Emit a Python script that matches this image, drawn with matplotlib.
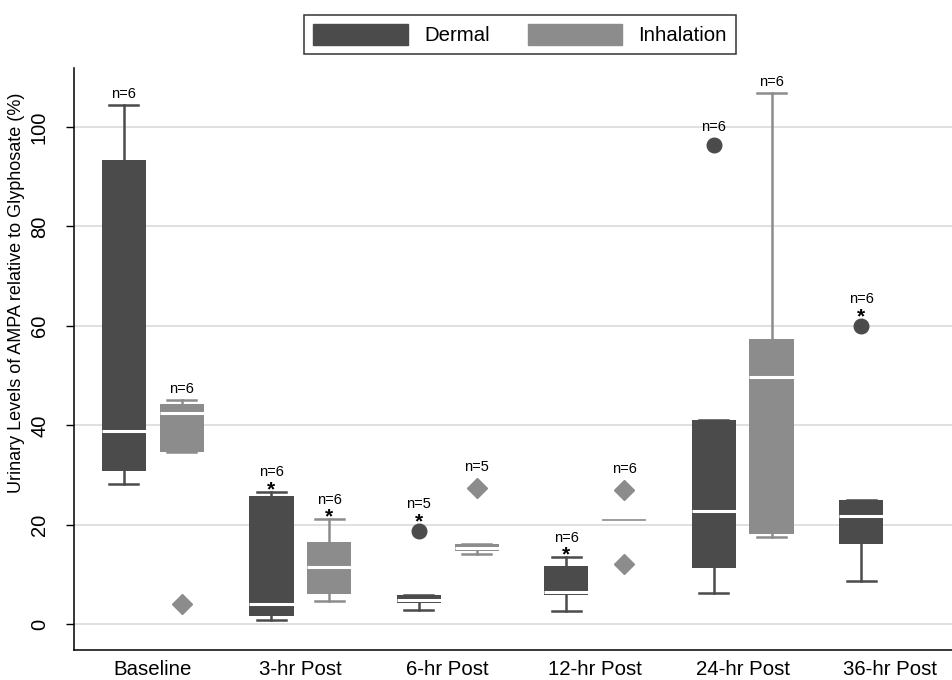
import matplotlib
matplotlib.use("Agg")
import matplotlib.pyplot as plt
from matplotlib.patches import Patch

plt.rcParams['font.family'] = ['Liberation Sans', 'DejaVu Sans']

# time points on the x axis
groups = ['Baseline', '3-hr Post', '6-hr Post', '12-hr Post', '24-hr Post', '36-hr Post']

# box statistics: q1, median, q3, whisker low, whisker high
dermal_q1 = [30.8, 1.7, 4.3, 5.9, 11.3, 16.2]
dermal_med = [38.8, 4.2, 5.0, 6.5, 22.9, 21.8]
dermal_q3 = [93.3, 25.8, 5.9, 11.8, 41.2, 25.0]
dermal_lo = [28.2, 0.8, 2.9, 2.7, 6.3, 8.8]
dermal_hi = [104.4, 26.7, 5.9, 13.5, 41.2, 25.0]
dermal_out = [[], [], [18.8], [], [96.4], [60.0]]
dermal_n = [6, 6, 5, 6, 6, 6]
dermal_star = [False, True, True, True, False, True]

# no inhalation data at 36-hr
inhal_q1 = [34.7, 6.2, 14.8, 21.0, 18.1]
inhal_med = [42.5, 11.5, 15.4, 21.0, 49.8]
inhal_q3 = [44.4, 16.5, 16.1, 21.0, 57.3]
inhal_lo = [34.7, 4.8, 14.2, 21.0, 17.5]
inhal_hi = [45.2, 21.2, 16.1, 21.0, 106.8]
inhal_out = [[4.1], [], [27.5], [27.1, 12.1], []]
inhal_n = [6, 6, 5, 6, 6]
inhal_star = [False, True, False, False, False]

dark = '#4b4b4b'
light = '#8c8c8c'

fig = plt.figure(figsize=(9.52, 6.8), dpi=100)
ax = fig.add_axes([74 / 952, 30 / 680, 878 / 952, 582 / 680])

off = 0.393   # inhalation box sits right of dermal box
bw = 0.30


def make_stats(q1, med, q3, lo, hi, out):
    return [dict(q1=a, med=b, q3=c, whislo=d, whishi=e, fliers=f)
            for a, b, c, d, e, f in zip(q1, med, q3, lo, hi, out)]


def draw(stats, pos, color, marker, ms):
    return ax.bxp(stats, positions=pos, widths=bw, capwidths=0.197,
                  patch_artist=True, showfliers=True, manage_ticks=False,
                  boxprops=dict(facecolor=color, edgecolor=color, linewidth=0),
                  medianprops=dict(color='white', linewidth=2.2),
                  whiskerprops=dict(color=color, linewidth=1.8),
                  capprops=dict(color=color, linewidth=1.8),
                  flierprops=dict(marker=marker, markerfacecolor=color,
                                  markeredgecolor=color, markersize=ms),
                  zorder=3)


pos_d = list(range(len(groups)))
pos_i = [p + off for p in range(len(inhal_med))]

draw(make_stats(dermal_q1, dermal_med, dermal_q3, dermal_lo, dermal_hi, dermal_out),
     pos_d, dark, 'o', 10.5)
bi = draw(make_stats(inhal_q1, inhal_med, inhal_q3, inhal_lo, inhal_hi, inhal_out),
          pos_i, light, 'D', 10)

# 12-hr inhalation collapses to one thin line
bi['medians'][3].set_color(light)
bi['medians'][3].set_linewidth(1.2)
bi['caps'][6].set_visible(False)
bi['caps'][7].set_visible(False)


def label(xs, his, outs, ns, stars, flier_r):
    for x, hi, out, n, st in zip(xs, his, outs, ns, stars):
        top = hi
        extra = 0
        if out and max(out) > hi:
            top = max(out)
            extra = flier_r
        if st:
            # star hangs just under the n label
            ax.annotate('*', (x, top), xytext=(0, extra + 8.3), textcoords='offset points',
                        ha='center', va='top', fontsize=15, fontweight='bold')
            dy = extra + 11
        else:
            dy = extra + 5
        ax.annotate('n=%d' % n, (x, top), xytext=(0, dy), textcoords='offset points',
                    ha='center', va='baseline', fontsize=10.5)


label(pos_d, dermal_hi, dermal_out, dermal_n, dermal_star, 5.3)
label(pos_i, inhal_hi, inhal_out, inhal_n, inhal_star, 7)

ax.set_xlim(-0.339, 5.617)
ax.set_ylim(-5.13, 111.86)
ax.set_yticks([0, 20, 40, 60, 80, 100])
ax.set_xticks([p + off / 2 for p in pos_d])
ax.set_xticklabels(groups, fontsize=14.7)
ax.tick_params(axis='x', length=0, pad=7.5)
ax.tick_params(axis='y', labelrotation=90, labelsize=14.5, length=6, width=1, pad=12)
for lab in ax.get_yticklabels():
    lab.set_va('center')

ax.yaxis.grid(True, color='#dddddd', linewidth=1.3, zorder=0)
ax.set_axisbelow(True)
ax.spines['top'].set_visible(False)
ax.spines['right'].set_visible(False)
ax.spines['left'].set_linewidth(1.1)
ax.spines['bottom'].set_linewidth(1.1)

ax.set_ylabel('Urinary Levels of AMPA relative to Glyphosate (%)', fontsize=13, va='center')
ax.yaxis.set_label_coords(-0.066, 0.613)

handles = [Patch(facecolor=dark, edgecolor=dark), Patch(facecolor=light, edgecolor=light)]
fig.legend(handles, ['Dermal', 'Inhalation'], loc='center', bbox_to_anchor=(520 / 952, 1 - 34.5 / 680),
           ncol=2, fontsize=14.7, frameon=True, fancybox=False, edgecolor='black',
           handlelength=4.65, handleheight=1.22, handletextpad=0.78, columnspacing=1.86,
           borderpad=0.45)
fig.legends[0].get_frame().set_linewidth(1.1)

fig.savefig('out.png', dpi=100)
